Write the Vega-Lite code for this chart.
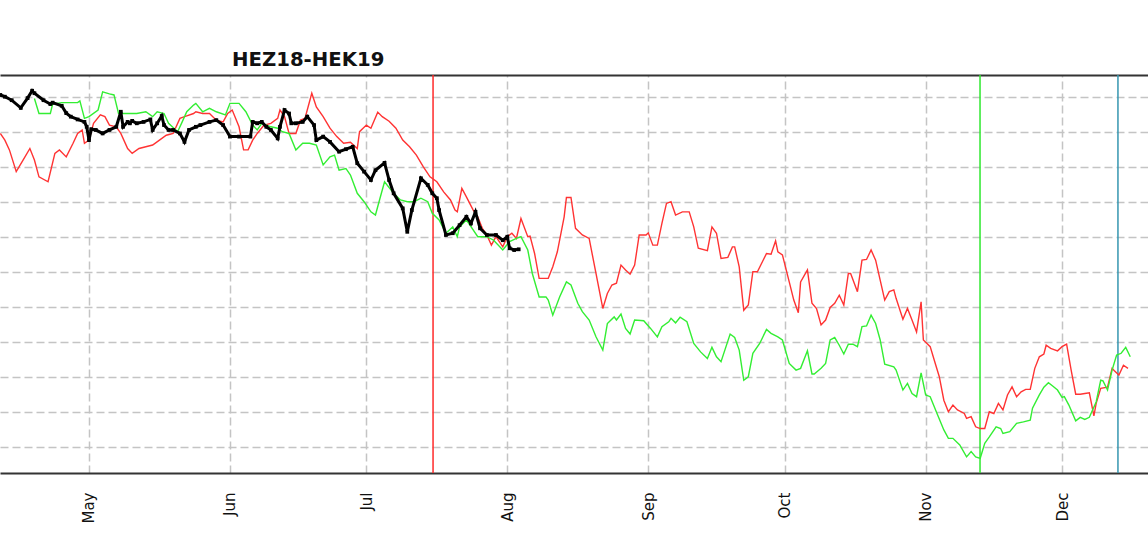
{
  "$schema": "https://vega.github.io/schema/vega-lite/v6.json",
  "width": 1148,
  "height": 398,
  "autosize": {"type": "none"},
  "padding": {"left": 0, "top": 75, "right": 0, "bottom": 65},
  "background": "white",
  "title": {
    "text": "HEZ18-HEK19",
    "anchor": "start",
    "frame": "group",
    "dx": 232,
    "dy": 20,
    "offset": 9,
    "baseline": "alphabetic",
    "font": "DejaVu Sans",
    "fontSize": 19.7,
    "fontWeight": "bold",
    "color": "#111111"
  },
  "config": {"view": {"stroke": null}, "font": "DejaVu Sans"},
  "resolve": {"axis": {"x": "independent"}},
  "datasets": {
    "markers": [
      {"d": "2018-07-15T16:00Z", "kind": "roll"},
      {"d": "2018-11-12T23:00Z", "kind": "expiry"},
      {"d": "2018-12-13T07:00Z", "kind": "today"}
    ],
    "black": [
      {"d": "2018-04-11T12:00Z", "v": 10.06}, {"d": "2018-04-12T12:00Z", "v": 10.01}, {"d": "2018-04-14", "v": 9.91},
      {"d": "2018-04-16", "v": 9.69}, {"d": "2018-04-17T12:00Z", "v": 9.97}, {"d": "2018-04-18T12:00Z", "v": 10.18},
      {"d": "2018-04-19", "v": 10.11}, {"d": "2018-04-21", "v": 9.91}, {"d": "2018-04-22T12:00Z", "v": 9.80},
      {"d": "2018-04-23", "v": 9.84}, {"d": "2018-04-25", "v": 9.75}, {"d": "2018-04-26", "v": 9.54},
      {"d": "2018-04-27", "v": 9.44}, {"d": "2018-04-28T12:00Z", "v": 9.36}, {"d": "2018-04-30", "v": 9.29},
      {"d": "2018-04-30T12:00Z", "v": 9.15}, {"d": "2018-05-01", "v": 8.77}, {"d": "2018-05-01T12:00Z", "v": 9.08},
      {"d": "2018-05-02T12:00Z", "v": 9.06}, {"d": "2018-05-04", "v": 8.96}, {"d": "2018-05-05T12:00Z", "v": 9.06},
      {"d": "2018-05-07", "v": 9.15}, {"d": "2018-05-08", "v": 9.58}, {"d": "2018-05-08T12:00Z", "v": 9.15},
      {"d": "2018-05-09T12:00Z", "v": 9.29}, {"d": "2018-05-10", "v": 9.25}, {"d": "2018-05-10T12:00Z", "v": 9.32},
      {"d": "2018-05-11T12:00Z", "v": 9.25}, {"d": "2018-05-13", "v": 9.29}, {"d": "2018-05-14T12:00Z", "v": 9.36},
      {"d": "2018-05-15", "v": 9.06}, {"d": "2018-05-16", "v": 9.25}, {"d": "2018-05-17", "v": 9.46},
      {"d": "2018-05-17T12:00Z", "v": 9.2}, {"d": "2018-05-18T12:00Z", "v": 9.06}, {"d": "2018-05-19T12:00Z", "v": 9.06},
      {"d": "2018-05-21", "v": 8.96}, {"d": "2018-05-22", "v": 8.72}, {"d": "2018-05-23", "v": 9.06},
      {"d": "2018-05-24T12:00Z", "v": 9.15}, {"d": "2018-05-25T12:00Z", "v": 9.2}, {"d": "2018-05-27T12:00Z", "v": 9.29},
      {"d": "2018-05-29", "v": 9.34}, {"d": "2018-05-30T12:00Z", "v": 9.2}, {"d": "2018-06-01", "v": 8.87},
      {"d": "2018-06-03", "v": 8.87}, {"d": "2018-06-05T12:00Z", "v": 8.87}, {"d": "2018-06-06", "v": 9.29},
      {"d": "2018-06-07", "v": 9.25}, {"d": "2018-06-08", "v": 9.29}, {"d": "2018-06-09", "v": 9.15},
      {"d": "2018-06-10", "v": 9.06}, {"d": "2018-06-11T12:00Z", "v": 8.82}, {"d": "2018-06-12", "v": 9.15},
      {"d": "2018-06-13", "v": 9.63}, {"d": "2018-06-14", "v": 9.53}, {"d": "2018-06-14T12:00Z", "v": 9.25},
      {"d": "2018-06-15T12:00Z", "v": 9.25}, {"d": "2018-06-17", "v": 9.29}, {"d": "2018-06-18", "v": 9.44},
      {"d": "2018-06-19T12:00Z", "v": 9.2}, {"d": "2018-06-20", "v": 8.77}, {"d": "2018-06-21T12:00Z", "v": 8.87},
      {"d": "2018-06-23", "v": 8.72}, {"d": "2018-06-25", "v": 8.44}, {"d": "2018-06-26T12:00Z", "v": 8.51},
      {"d": "2018-06-28", "v": 8.58}, {"d": "2018-06-29", "v": 8.11}, {"d": "2018-06-30T12:00Z", "v": 7.87},
      {"d": "2018-07-02", "v": 7.63}, {"d": "2018-07-03", "v": 7.91}, {"d": "2018-07-05", "v": 8.12},
      {"d": "2018-07-06", "v": 7.63}, {"d": "2018-07-07", "v": 7.25}, {"d": "2018-07-09", "v": 6.82},
      {"d": "2018-07-10", "v": 6.15}, {"d": "2018-07-11", "v": 6.77}, {"d": "2018-07-13", "v": 7.68},
      {"d": "2018-07-14T12:00Z", "v": 7.49}, {"d": "2018-07-15T12:00Z", "v": 7.25}, {"d": "2018-07-16T12:00Z", "v": 7.11},
      {"d": "2018-07-17", "v": 6.77}, {"d": "2018-07-18T12:00Z", "v": 6.06}, {"d": "2018-07-20", "v": 6.11},
      {"d": "2018-07-21T12:00Z", "v": 6.34}, {"d": "2018-07-23", "v": 6.58}, {"d": "2018-07-24", "v": 6.39},
      {"d": "2018-07-25", "v": 6.72}, {"d": "2018-07-26", "v": 6.25}, {"d": "2018-07-27T12:00Z", "v": 6.06},
      {"d": "2018-07-29T12:00Z", "v": 6.06}, {"d": "2018-07-31", "v": 5.91}, {"d": "2018-08-01", "v": 6.01},
      {"d": "2018-08-01T12:00Z", "v": 5.68}, {"d": "2018-08-02T12:00Z", "v": 5.63}, {"d": "2018-08-03T12:00Z", "v": 5.65}
    ],
    "green": [
      {"d": "2018-04-19", "v": 9.96}, {"d": "2018-04-20", "v": 9.53}, {"d": "2018-04-22T12:00Z", "v": 9.53},
      {"d": "2018-04-23", "v": 9.8}, {"d": "2018-04-25", "v": 9.84}, {"d": "2018-04-28T12:00Z", "v": 9.84},
      {"d": "2018-04-29", "v": 9.89}, {"d": "2018-04-30", "v": 9.39}, {"d": "2018-05-01", "v": 9.44},
      {"d": "2018-05-03", "v": 9.63}, {"d": "2018-05-04", "v": 10.15}, {"d": "2018-05-05T12:00Z", "v": 10.09},
      {"d": "2018-05-06T12:00Z", "v": 10.06}, {"d": "2018-05-07T12:00Z", "v": 9.53}, {"d": "2018-05-09T12:00Z", "v": 9.53},
      {"d": "2018-05-11T12:00Z", "v": 9.53}, {"d": "2018-05-13T12:00Z", "v": 9.58}, {"d": "2018-05-15", "v": 9.44},
      {"d": "2018-05-16", "v": 9.58}, {"d": "2018-05-17T12:00Z", "v": 9.53}, {"d": "2018-05-18T12:00Z", "v": 9.25},
      {"d": "2018-05-20T12:00Z", "v": 9.01}, {"d": "2018-05-21T12:00Z", "v": 9.29}, {"d": "2018-05-22T12:00Z", "v": 9.58},
      {"d": "2018-05-24", "v": 9.77}, {"d": "2018-05-24T12:00Z", "v": 9.82}, {"d": "2018-05-26", "v": 9.58},
      {"d": "2018-05-27T12:00Z", "v": 9.68}, {"d": "2018-05-29", "v": 9.58}, {"d": "2018-05-31", "v": 9.49},
      {"d": "2018-06-01", "v": 9.82}, {"d": "2018-06-03", "v": 9.82}, {"d": "2018-06-04T12:00Z", "v": 9.58},
      {"d": "2018-06-06", "v": 9.2}, {"d": "2018-06-07", "v": 9.06}, {"d": "2018-06-08", "v": 9.25},
      {"d": "2018-06-10", "v": 9.15}, {"d": "2018-06-11T12:00Z", "v": 9.11}, {"d": "2018-06-12T12:00Z", "v": 9.01},
      {"d": "2018-06-14", "v": 8.96}, {"d": "2018-06-15T12:00Z", "v": 8.49}, {"d": "2018-06-17", "v": 8.68},
      {"d": "2018-06-18T12:00Z", "v": 8.68}, {"d": "2018-06-20", "v": 8.63}, {"d": "2018-06-21T12:00Z", "v": 8.06},
      {"d": "2018-06-23", "v": 8.29}, {"d": "2018-06-24", "v": 8.34}, {"d": "2018-06-25", "v": 7.91},
      {"d": "2018-06-26T12:00Z", "v": 7.96}, {"d": "2018-06-27T12:00Z", "v": 7.77}, {"d": "2018-06-29", "v": 7.25},
      {"d": "2018-06-30T12:00Z", "v": 7.01}, {"d": "2018-07-02", "v": 6.72}, {"d": "2018-07-03", "v": 6.63},
      {"d": "2018-07-04", "v": 7.11}, {"d": "2018-07-05", "v": 7.58}, {"d": "2018-07-07", "v": 7.25},
      {"d": "2018-07-08T12:00Z", "v": 7.06}, {"d": "2018-07-10", "v": 7.01}, {"d": "2018-07-11T12:00Z", "v": 7.01},
      {"d": "2018-07-13", "v": 7.11}, {"d": "2018-07-14T12:00Z", "v": 7.01}, {"d": "2018-07-15T12:00Z", "v": 6.68},
      {"d": "2018-07-17", "v": 6.49}, {"d": "2018-07-18T12:00Z", "v": 6.11}, {"d": "2018-07-20", "v": 6.29},
      {"d": "2018-07-21", "v": 6.01}, {"d": "2018-07-21T12:00Z", "v": 6.29}, {"d": "2018-07-23", "v": 6.49},
      {"d": "2018-07-25T12:00Z", "v": 6.01}, {"d": "2018-07-27T12:00Z", "v": 6.01}, {"d": "2018-07-29", "v": 5.91},
      {"d": "2018-07-31", "v": 5.63}, {"d": "2018-08-01T12:00Z", "v": 5.87}, {"d": "2018-08-03", "v": 5.96},
      {"d": "2018-08-04", "v": 6.01}, {"d": "2018-08-05T12:00Z", "v": 5.63}, {"d": "2018-08-06T12:00Z", "v": 4.96},
      {"d": "2018-08-08", "v": 4.29}, {"d": "2018-08-09T12:00Z", "v": 4.29}, {"d": "2018-08-10", "v": 4.2},
      {"d": "2018-08-11", "v": 3.77}, {"d": "2018-08-12T12:00Z", "v": 4.29}, {"d": "2018-08-14", "v": 4.72},
      {"d": "2018-08-15", "v": 4.63}, {"d": "2018-08-16T12:00Z", "v": 4.11}, {"d": "2018-08-17T12:00Z", "v": 3.87},
      {"d": "2018-08-19", "v": 3.63}, {"d": "2018-08-20T12:00Z", "v": 3.15}, {"d": "2018-08-22", "v": 2.77},
      {"d": "2018-08-23", "v": 3.53}, {"d": "2018-08-24T12:00Z", "v": 3.72}, {"d": "2018-08-25", "v": 3.63},
      {"d": "2018-08-26", "v": 3.8}, {"d": "2018-08-27", "v": 3.39}, {"d": "2018-08-28", "v": 3.23},
      {"d": "2018-08-29", "v": 3.63}, {"d": "2018-08-31", "v": 3.61}, {"d": "2018-09-01T12:00Z", "v": 3.39},
      {"d": "2018-09-03", "v": 3.15}, {"d": "2018-09-04", "v": 3.44}, {"d": "2018-09-05T12:00Z", "v": 3.58},
      {"d": "2018-09-06", "v": 3.68}, {"d": "2018-09-07", "v": 3.55}, {"d": "2018-09-08", "v": 3.71},
      {"d": "2018-09-09T12:00Z", "v": 3.58}, {"d": "2018-09-11", "v": 2.96}, {"d": "2018-09-12T12:00Z", "v": 2.72},
      {"d": "2018-09-14", "v": 2.53}, {"d": "2018-09-15", "v": 2.85}, {"d": "2018-09-16", "v": 2.58},
      {"d": "2018-09-17", "v": 2.44}, {"d": "2018-09-19", "v": 3.23}, {"d": "2018-09-20", "v": 3.13},
      {"d": "2018-09-21", "v": 2.77}, {"d": "2018-09-22", "v": 1.91}, {"d": "2018-09-23", "v": 2.01},
      {"d": "2018-09-24", "v": 2.68}, {"d": "2018-09-25T12:00Z", "v": 2.96}, {"d": "2018-09-27", "v": 3.36},
      {"d": "2018-09-28", "v": 3.25}, {"d": "2018-09-29T12:00Z", "v": 3.15}, {"d": "2018-09-30T12:00Z", "v": 3.06},
      {"d": "2018-10-02", "v": 2.39}, {"d": "2018-10-03T12:00Z", "v": 2.2}, {"d": "2018-10-04T12:00Z", "v": 2.25},
      {"d": "2018-10-06", "v": 2.75}, {"d": "2018-10-07", "v": 2.09}, {"d": "2018-10-07T12:00Z", "v": 2.09},
      {"d": "2018-10-09", "v": 2.25}, {"d": "2018-10-10", "v": 2.39}, {"d": "2018-10-11", "v": 3.06},
      {"d": "2018-10-12", "v": 3.13}, {"d": "2018-10-13", "v": 2.91}, {"d": "2018-10-14", "v": 2.66},
      {"d": "2018-10-15", "v": 2.94}, {"d": "2018-10-16", "v": 2.94}, {"d": "2018-10-17", "v": 2.87},
      {"d": "2018-10-18", "v": 3.44}, {"d": "2018-10-19", "v": 3.46}, {"d": "2018-10-20", "v": 3.77},
      {"d": "2018-10-21", "v": 3.53}, {"d": "2018-10-22", "v": 3.06}, {"d": "2018-10-23", "v": 2.37},
      {"d": "2018-10-25", "v": 2.29}, {"d": "2018-10-25T12:00Z", "v": 2.2}, {"d": "2018-10-26T12:00Z", "v": 1.82},
      {"d": "2018-10-27", "v": 1.63}, {"d": "2018-10-28", "v": 1.82}, {"d": "2018-10-29", "v": 1.53},
      {"d": "2018-10-30", "v": 1.44}, {"d": "2018-10-31", "v": 2.12}, {"d": "2018-11-01", "v": 1.49},
      {"d": "2018-11-02", "v": 1.44}, {"d": "2018-11-03T12:00Z", "v": 0.96}, {"d": "2018-11-05", "v": 0.49},
      {"d": "2018-11-06", "v": 0.25}, {"d": "2018-11-07", "v": 0.25}, {"d": "2018-11-08T12:00Z", "v": 0.06},
      {"d": "2018-11-10", "v": -0.28}, {"d": "2018-11-11", "v": -0.13}, {"d": "2018-11-12", "v": -0.28},
      {"d": "2018-11-13", "v": -0.32}, {"d": "2018-11-14", "v": 0.11}, {"d": "2018-11-15", "v": 0.29},
      {"d": "2018-11-16T12:00Z", "v": 0.58}, {"d": "2018-11-17T12:00Z", "v": 0.53}, {"d": "2018-11-18", "v": 0.39},
      {"d": "2018-11-19T12:00Z", "v": 0.44}, {"d": "2018-11-21", "v": 0.68}, {"d": "2018-11-22T12:00Z", "v": 0.72},
      {"d": "2018-11-24", "v": 0.77}, {"d": "2018-11-24T12:00Z", "v": 1.11}, {"d": "2018-11-26", "v": 1.49},
      {"d": "2018-11-27", "v": 1.71}, {"d": "2018-11-28", "v": 1.84}, {"d": "2018-11-29", "v": 1.74},
      {"d": "2018-11-30", "v": 1.63}, {"d": "2018-12-01", "v": 1.42}, {"d": "2018-12-01T12:00Z", "v": 1.44},
      {"d": "2018-12-02T12:00Z", "v": 1.2}, {"d": "2018-12-04", "v": 0.75}, {"d": "2018-12-05", "v": 0.85},
      {"d": "2018-12-06", "v": 0.79}, {"d": "2018-12-07", "v": 0.85}, {"d": "2018-12-08T12:00Z", "v": 1.29},
      {"d": "2018-12-09T12:00Z", "v": 1.91}, {"d": "2018-12-10", "v": 1.89}, {"d": "2018-12-11", "v": 1.63},
      {"d": "2018-12-12", "v": 2.2}, {"d": "2018-12-13", "v": 2.63}, {"d": "2018-12-14", "v": 2.68},
      {"d": "2018-12-15", "v": 2.85}, {"d": "2018-12-16", "v": 2.58}
    ],
    "red": [
      {"d": "2018-04-11T12:00Z", "v": 8.96}, {"d": "2018-04-12T12:00Z", "v": 8.77}, {"d": "2018-04-13T12:00Z", "v": 8.49},
      {"d": "2018-04-15", "v": 7.87}, {"d": "2018-04-16T12:00Z", "v": 8.2}, {"d": "2018-04-18", "v": 8.53},
      {"d": "2018-04-19", "v": 8.2}, {"d": "2018-04-20", "v": 7.72}, {"d": "2018-04-22", "v": 7.58},
      {"d": "2018-04-23T12:00Z", "v": 8.39}, {"d": "2018-04-24T12:00Z", "v": 8.49}, {"d": "2018-04-26", "v": 8.29},
      {"d": "2018-04-27T12:00Z", "v": 8.68}, {"d": "2018-04-28T12:00Z", "v": 8.96}, {"d": "2018-04-29T12:00Z", "v": 9.06},
      {"d": "2018-04-30", "v": 8.68}, {"d": "2018-05-01", "v": 8.77}, {"d": "2018-05-02", "v": 9.25},
      {"d": "2018-05-03T12:00Z", "v": 9.49}, {"d": "2018-05-04T12:00Z", "v": 9.44}, {"d": "2018-05-05T12:00Z", "v": 9.2},
      {"d": "2018-05-07", "v": 9.15}, {"d": "2018-05-08", "v": 8.96}, {"d": "2018-05-09T12:00Z", "v": 8.53},
      {"d": "2018-05-10T12:00Z", "v": 8.39}, {"d": "2018-05-12", "v": 8.53}, {"d": "2018-05-13T12:00Z", "v": 8.58},
      {"d": "2018-05-15", "v": 8.63}, {"d": "2018-05-16T12:00Z", "v": 8.77}, {"d": "2018-05-18", "v": 8.91},
      {"d": "2018-05-19T12:00Z", "v": 8.96}, {"d": "2018-05-21", "v": 9.39}, {"d": "2018-05-22T12:00Z", "v": 9.46},
      {"d": "2018-05-24", "v": 9.53}, {"d": "2018-05-24T12:00Z", "v": 9.58}, {"d": "2018-05-26", "v": 9.53},
      {"d": "2018-05-27T12:00Z", "v": 9.53}, {"d": "2018-05-29", "v": 9.34}, {"d": "2018-05-30T12:00Z", "v": 9.29},
      {"d": "2018-05-31T12:00Z", "v": 9.53}, {"d": "2018-06-01T12:00Z", "v": 9.63}, {"d": "2018-06-03", "v": 9.15},
      {"d": "2018-06-04", "v": 8.49}, {"d": "2018-06-05", "v": 8.49}, {"d": "2018-06-06", "v": 8.77},
      {"d": "2018-06-07", "v": 8.96}, {"d": "2018-06-08T12:00Z", "v": 9.2}, {"d": "2018-06-10", "v": 9.25},
      {"d": "2018-06-11T12:00Z", "v": 9.39}, {"d": "2018-06-12", "v": 9.63}, {"d": "2018-06-13", "v": 9.44},
      {"d": "2018-06-14", "v": 8.96}, {"d": "2018-06-15T12:00Z", "v": 8.96}, {"d": "2018-06-16T12:00Z", "v": 9.34},
      {"d": "2018-06-17T12:00Z", "v": 9.39}, {"d": "2018-06-19", "v": 10.11}, {"d": "2018-06-20", "v": 9.72},
      {"d": "2018-06-21T12:00Z", "v": 9.44}, {"d": "2018-06-23", "v": 9.11}, {"d": "2018-06-24T12:00Z", "v": 8.87},
      {"d": "2018-06-26", "v": 8.68}, {"d": "2018-06-27T12:00Z", "v": 8.71}, {"d": "2018-06-29", "v": 8.53},
      {"d": "2018-06-29T12:00Z", "v": 9.01}, {"d": "2018-07-01", "v": 9.2}, {"d": "2018-07-02", "v": 9.11},
      {"d": "2018-07-03T12:00Z", "v": 9.57}, {"d": "2018-07-04T12:00Z", "v": 9.44}, {"d": "2018-07-06", "v": 9.31},
      {"d": "2018-07-07T12:00Z", "v": 9.11}, {"d": "2018-07-09", "v": 8.77}, {"d": "2018-07-10T12:00Z", "v": 8.58},
      {"d": "2018-07-12", "v": 8.34}, {"d": "2018-07-13T12:00Z", "v": 8.01}, {"d": "2018-07-15", "v": 7.72},
      {"d": "2018-07-16T12:00Z", "v": 7.58}, {"d": "2018-07-18", "v": 7.29}, {"d": "2018-07-19T12:00Z", "v": 7.06},
      {"d": "2018-07-20T12:00Z", "v": 6.77}, {"d": "2018-07-21", "v": 6.72}, {"d": "2018-07-22", "v": 7.39},
      {"d": "2018-07-23", "v": 7.15}, {"d": "2018-07-24T12:00Z", "v": 6.77}, {"d": "2018-07-25T12:00Z", "v": 6.58},
      {"d": "2018-07-26T12:00Z", "v": 6.25}, {"d": "2018-07-27T12:00Z", "v": 6.06}, {"d": "2018-07-28T12:00Z", "v": 5.77},
      {"d": "2018-07-29T12:00Z", "v": 6.01}, {"d": "2018-07-31", "v": 5.72}, {"d": "2018-08-01", "v": 6.01},
      {"d": "2018-08-02", "v": 6.11}, {"d": "2018-08-03", "v": 5.96}, {"d": "2018-08-04", "v": 6.53},
      {"d": "2018-08-05T12:00Z", "v": 6.01}, {"d": "2018-08-06", "v": 6.03}, {"d": "2018-08-07", "v": 5.53},
      {"d": "2018-08-08", "v": 4.82}, {"d": "2018-08-09", "v": 4.82}, {"d": "2018-08-10", "v": 4.82},
      {"d": "2018-08-11", "v": 5.15}, {"d": "2018-08-12", "v": 5.58}, {"d": "2018-08-13T12:00Z", "v": 6.58},
      {"d": "2018-08-14", "v": 7.13}, {"d": "2018-08-15", "v": 7.13}, {"d": "2018-08-16", "v": 6.25},
      {"d": "2018-08-17T12:00Z", "v": 6.06}, {"d": "2018-08-19", "v": 5.96}, {"d": "2018-08-20T12:00Z", "v": 4.96},
      {"d": "2018-08-22", "v": 3.96}, {"d": "2018-08-23", "v": 4.39}, {"d": "2018-08-24", "v": 4.63},
      {"d": "2018-08-25", "v": 4.68}, {"d": "2018-08-26", "v": 5.2}, {"d": "2018-08-27", "v": 5.06},
      {"d": "2018-08-28", "v": 4.94}, {"d": "2018-08-29", "v": 5.2}, {"d": "2018-08-30", "v": 6.06},
      {"d": "2018-08-31T12:00Z", "v": 6.06}, {"d": "2018-09-01", "v": 6.12}, {"d": "2018-09-02", "v": 5.77},
      {"d": "2018-09-03", "v": 5.77}, {"d": "2018-09-04", "v": 6.39}, {"d": "2018-09-05", "v": 6.96},
      {"d": "2018-09-06", "v": 7.01}, {"d": "2018-09-07", "v": 6.63}, {"d": "2018-09-08T12:00Z", "v": 6.72},
      {"d": "2018-09-10", "v": 6.72}, {"d": "2018-09-11", "v": 6.29}, {"d": "2018-09-12", "v": 5.68},
      {"d": "2018-09-14", "v": 5.61}, {"d": "2018-09-15", "v": 6.29}, {"d": "2018-09-16", "v": 6.11},
      {"d": "2018-09-17", "v": 5.39}, {"d": "2018-09-18T12:00Z", "v": 5.42}, {"d": "2018-09-19T12:00Z", "v": 5.72},
      {"d": "2018-09-20", "v": 5.72}, {"d": "2018-09-21", "v": 5.15}, {"d": "2018-09-22", "v": 3.91},
      {"d": "2018-09-23", "v": 4.06}, {"d": "2018-09-24", "v": 5.01}, {"d": "2018-09-25", "v": 5.01},
      {"d": "2018-09-27", "v": 5.53}, {"d": "2018-09-28", "v": 5.51}, {"d": "2018-09-29", "v": 5.89},
      {"d": "2018-09-29T12:00Z", "v": 5.58}, {"d": "2018-09-30T12:00Z", "v": 5.49}, {"d": "2018-10-02", "v": 4.72},
      {"d": "2018-10-03", "v": 4.2}, {"d": "2018-10-04", "v": 3.84}, {"d": "2018-10-04T12:00Z", "v": 4.72},
      {"d": "2018-10-06", "v": 5.06}, {"d": "2018-10-07", "v": 4.11}, {"d": "2018-10-08", "v": 3.96},
      {"d": "2018-10-09", "v": 3.49}, {"d": "2018-10-10", "v": 3.63}, {"d": "2018-10-11", "v": 3.99},
      {"d": "2018-10-12", "v": 4.11}, {"d": "2018-10-13", "v": 4.34}, {"d": "2018-10-14", "v": 4.06},
      {"d": "2018-10-15", "v": 4.96}, {"d": "2018-10-15T12:00Z", "v": 4.96}, {"d": "2018-10-17", "v": 4.44},
      {"d": "2018-10-18", "v": 5.34}, {"d": "2018-10-19", "v": 5.36}, {"d": "2018-10-20", "v": 5.63},
      {"d": "2018-10-21", "v": 5.34}, {"d": "2018-10-22", "v": 4.77}, {"d": "2018-10-23", "v": 4.2},
      {"d": "2018-10-24", "v": 4.44}, {"d": "2018-10-25", "v": 4.49}, {"d": "2018-10-25T12:00Z", "v": 4.25},
      {"d": "2018-10-27", "v": 3.65}, {"d": "2018-10-28", "v": 3.96}, {"d": "2018-10-29", "v": 3.63},
      {"d": "2018-10-30", "v": 3.29}, {"d": "2018-10-31", "v": 4.15}, {"d": "2018-10-31T12:00Z", "v": 3.06},
      {"d": "2018-11-02", "v": 2.87}, {"d": "2018-11-03", "v": 2.44}, {"d": "2018-11-04", "v": 2.01},
      {"d": "2018-11-05", "v": 1.34}, {"d": "2018-11-06", "v": 1.01}, {"d": "2018-11-07", "v": 1.2},
      {"d": "2018-11-08", "v": 1.06}, {"d": "2018-11-09T12:00Z", "v": 0.96}, {"d": "2018-11-10", "v": 0.82},
      {"d": "2018-11-11", "v": 0.87}, {"d": "2018-11-12", "v": 0.58}, {"d": "2018-11-13", "v": 0.53},
      {"d": "2018-11-14", "v": 0.53}, {"d": "2018-11-15", "v": 1.01}, {"d": "2018-11-16", "v": 0.96},
      {"d": "2018-11-17", "v": 1.25}, {"d": "2018-11-18", "v": 1.06}, {"d": "2018-11-19", "v": 1.49},
      {"d": "2018-11-20", "v": 1.72}, {"d": "2018-11-21", "v": 1.44}, {"d": "2018-11-22", "v": 1.58},
      {"d": "2018-11-23", "v": 1.65}, {"d": "2018-11-24", "v": 1.65}, {"d": "2018-11-25", "v": 2.25},
      {"d": "2018-11-26", "v": 2.58}, {"d": "2018-11-27", "v": 2.66}, {"d": "2018-11-27T12:00Z", "v": 2.91},
      {"d": "2018-11-28T12:00Z", "v": 2.82}, {"d": "2018-11-30", "v": 2.75}, {"d": "2018-12-01", "v": 2.87},
      {"d": "2018-12-02", "v": 2.94}, {"d": "2018-12-03", "v": 2.2}, {"d": "2018-12-04", "v": 1.51},
      {"d": "2018-12-05", "v": 1.51}, {"d": "2018-12-06", "v": 1.53}, {"d": "2018-12-07", "v": 1.55},
      {"d": "2018-12-08", "v": 0.89}, {"d": "2018-12-08T12:00Z", "v": 1.25}, {"d": "2018-12-09T12:00Z", "v": 1.68},
      {"d": "2018-12-11", "v": 1.71}, {"d": "2018-12-12", "v": 2.25}, {"d": "2018-12-12T12:00Z", "v": 2.18},
      {"d": "2018-12-13T12:00Z", "v": 2.06}, {"d": "2018-12-14T12:00Z", "v": 2.34}, {"d": "2018-12-15T12:00Z", "v": 2.25}
    ]
  },
  "layer": [
    {
      "data": {"name": "markers"},
      "mark": {"type": "rule", "strokeWidth": 1.5},
      "encoding": {
        "x": {
          "field": "d", "type": "temporal",
          "scale": {"type": "utc", "domain": [
            {"year": 2018, "month": 4, "date": 11, "hours": 10, "minutes": 19, "utc": true},
            {"year": 2018, "month": 12, "date": 19, "hours": 21, "minutes": 36, "utc": true}
          ]},
          "axis": {
            "orient": "bottom", "title": null, "format": "%b", "tickCount": "month",
            "labelAngle": -90, "labelFont": "DejaVu Sans", "labelFontSize": 15, "labelColor": "#111111",
            "labelPadding": 19, "labelFlush": false, "labelOverlap": false, "ticks": false,
            "domain": true, "domainColor": "#333333", "domainWidth": 2,
            "grid": true, "gridColor": "#c4c4c4", "gridDash": [8, 4], "gridWidth": 1.5
          }
        },
        "color": {
          "field": "kind", "type": "nominal", "legend": null,
          "scale": {"domain": ["roll", "expiry", "today"], "range": ["#ff2a2a", "#2ee82e", "#3596b0"]}
        }
      }
    },
    {
      "data": {"name": "red"},
      "mark": {"type": "line", "color": "#ff3333", "strokeWidth": 1.4, "clip": true},
      "encoding": {
        "x": {
          "field": "d", "type": "temporal",
          "axis": {
            "orient": "top", "title": null, "labels": false, "ticks": false, "grid": false,
            "domain": true, "domainColor": "#333333", "domainWidth": 2
          }
        },
        "y": {
          "field": "v", "type": "quantitative",
          "scale": {"domain": [-0.74, 10.63], "nice": false, "zero": false},
          "axis": {
            "title": null, "labels": false, "ticks": false, "domain": false,
            "values": [0, 1, 2, 3, 4, 5, 6, 7, 8, 9, 10],
            "grid": true, "gridColor": "#c4c4c4", "gridDash": [8, 4], "gridWidth": 1.5
          }
        }
      }
    },
    {
      "data": {"name": "green"},
      "mark": {"type": "line", "color": "#33ee33", "strokeWidth": 1.4, "clip": true},
      "encoding": {
        "x": {"field": "d", "type": "temporal", "axis": null},
        "y": {
          "field": "v", "type": "quantitative",
          "scale": {"domain": [-0.74, 10.63], "nice": false, "zero": false},
          "axis": {
            "title": null, "labels": false, "ticks": false, "domain": false,
            "values": [0, 1, 2, 3, 4, 5, 6, 7, 8, 9, 10],
            "grid": true, "gridColor": "#c4c4c4", "gridDash": [8, 4], "gridWidth": 1.5
          }
        }
      }
    },
    {
      "data": {"name": "black"},
      "mark": {
        "type": "line", "color": "#000000", "strokeWidth": 3, "clip": true,
        "point": {"filled": true, "color": "#000000", "size": 14, "shape": "square"}
      },
      "encoding": {
        "x": {"field": "d", "type": "temporal", "axis": null},
        "y": {
          "field": "v", "type": "quantitative",
          "scale": {"domain": [-0.74, 10.63], "nice": false, "zero": false},
          "axis": {
            "title": null, "labels": false, "ticks": false, "domain": false,
            "values": [0, 1, 2, 3, 4, 5, 6, 7, 8, 9, 10],
            "grid": true, "gridColor": "#c4c4c4", "gridDash": [8, 4], "gridWidth": 1.5
          }
        }
      }
    }
  ]
}
